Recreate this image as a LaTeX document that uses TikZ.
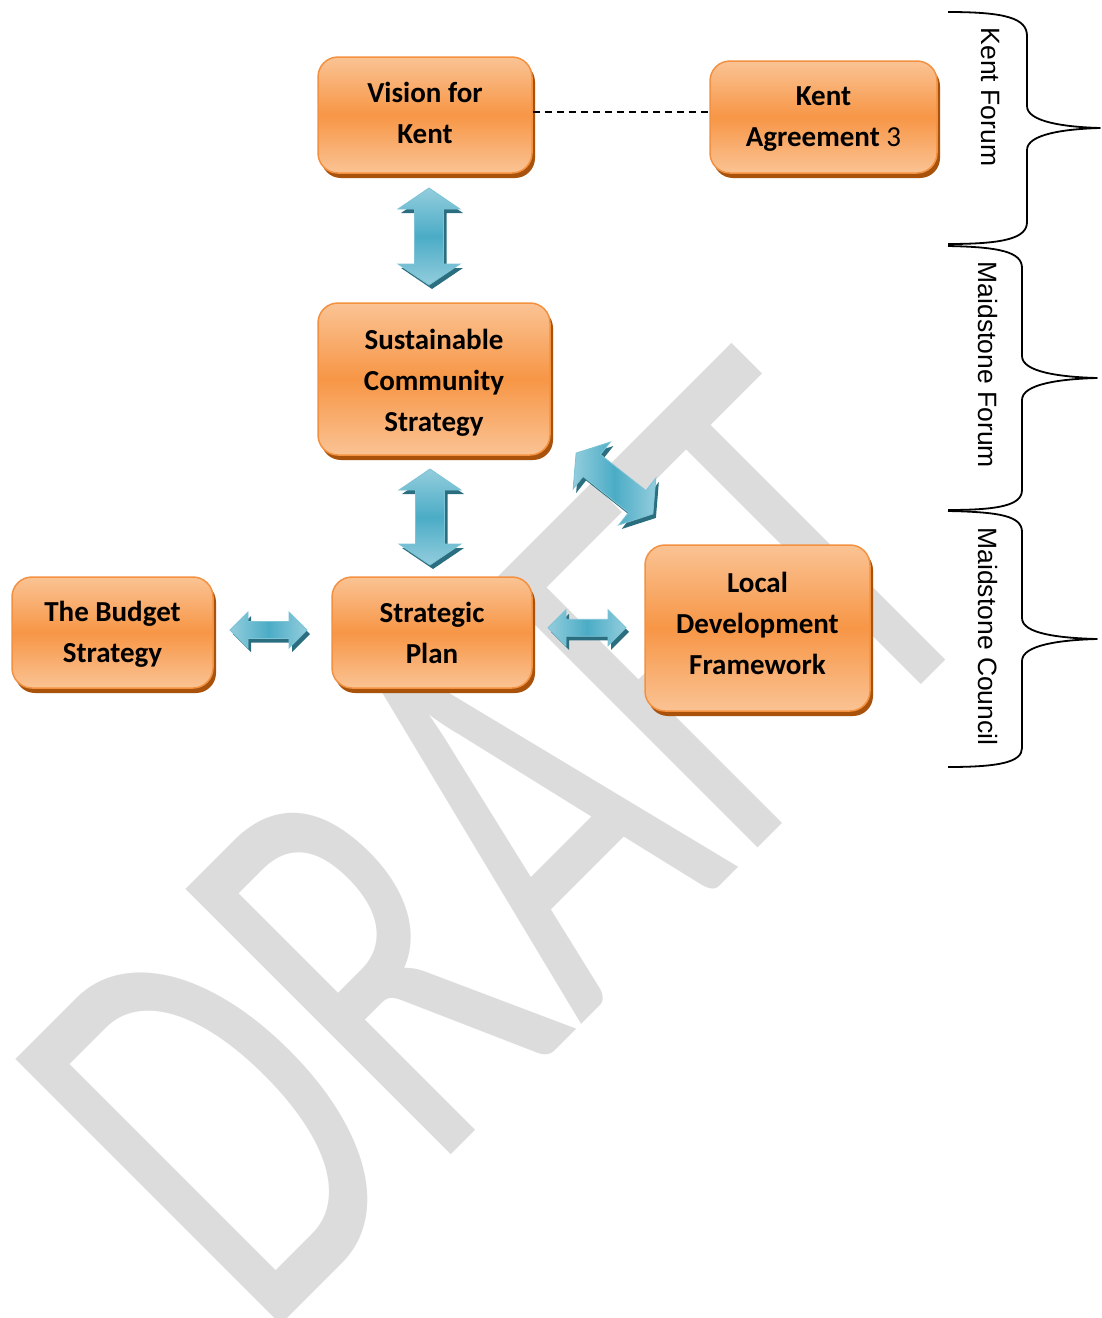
\documentclass[tikz,border=0pt]{standalone}
\usepackage{graphicx}
\usepackage{fontspec}
\setmainfont{Carlito}
\newfontfamily\arialfont{Liberation Sans}
\usetikzlibrary{calc,shadows}
\definecolor{boxtop}{HTML}{FAC394}
\definecolor{boxmid}{HTML}{F79646}
\definecolor{boxborder}{HTML}{F39140}
\definecolor{boxshadow}{HTML}{A8520C}
\definecolor{arrlight}{HTML}{93CDDD}
\definecolor{arrmid}{HTML}{4BACC6}
\definecolor{arrshadow}{HTML}{2B6E80}
\definecolor{arredge}{HTML}{7CC3D6}
\definecolor{wmark}{HTML}{DCDCDC}
\tikzset{
  box/.style={draw=boxborder, line width=1.5pt, rounded corners=20pt,
    top color=boxtop, bottom color=boxtop, middle color=boxmid,
    inner sep=0pt,
    drop shadow={shadow xshift=3pt, shadow yshift=-5pt, fill=boxshadow, opacity=1}},
  boxtext/.style={align=center, inner sep=0pt, text=black,
    font=\bfseries\fontsize{29}{41}\selectfont},
  pics/barrow/.style n args={5}{code={
    \path[#5] (-#1/2,0) -- (-#1/2+#4,-#2) -- (-#1/2+#4,-#3) -- (#1/2-#4,-#3)
      -- (#1/2-#4,-#2) -- (#1/2,0) -- (#1/2-#4,#2) -- (#1/2-#4,#3)
      -- (-#1/2+#4,#3) -- (-#1/2+#4,#2) -- cycle;
  }},
  arrbodyh/.style={draw=arredge, line width=0.8pt, line join=miter,
    left color=arrlight, right color=arrlight, middle color=arrmid},
  arrbodyv/.style={draw=arredge, line width=0.8pt, line join=miter,
    top color=arrlight, bottom color=arrlight, middle color=arrmid},
  arrshade/.style={fill=arrshadow},
  bracepath/.style={line width=1.8pt, line join=round},
  sidelabel/.style={font=\arialfont\fontsize{26.5}{30}\selectfont, rotate=-90, anchor=base, inner sep=0pt},
  dashline/.style={line width=1.4pt, dash pattern=on 7pt off 5pt},
}
\begin{document}
\begin{tikzpicture}[x=1pt,y=-1pt]
\useasboundingbox (0,0) rectangle (1102,1318);
% watermark
\begin{scope}
\clip (0,0) rectangle (1102,1318);
\node[rotate=45, anchor=base west, text=wmark, inner sep=0pt] (wm) at (262,1344)
  {\scalebox{0.665}[1]{\fontsize{585}{585}\selectfont DRAFT}};
\end{scope}
% boxes
\node[box, minimum width=214pt, minimum height=116pt] (vision) at (425,115) {};
\node[box, minimum width=227pt, minimum height=112pt] (kent) at (823.5,117) {};
\node[box, minimum width=232pt, minimum height=152pt] (scs) at (434,379) {};
\node[box, minimum width=201pt, minimum height=111pt] (budget) at (112.5,632.5) {};
\node[box, minimum width=200pt, minimum height=111pt] (sp) at (432,632.5) {};
\node[box, minimum width=225pt, minimum height=166pt] (ldf) at (757.5,628) {};
% box texts
\node[boxtext] (visiontxt) at ($(vision.center)+(0,-2)$) {Vision for\\Kent};
\node[boxtext] (kenttxt) at ($(kent.center)+(0,2)$) {Kent\\Agreement {\mdseries 3}};
\node[boxtext] (scstxt) at ($(scs.center)+(0,4)$) {Sustainable\\Community\\Strategy};
\node[boxtext] (budgettxt) at ($(budget.center)+(0,2)$) {The Budget\\Strategy};
\node[boxtext] (sptxt) at ($(sp.center)+(0,0)$) {Strategic\\Plan};
\node[boxtext] (ldftxt) at ($(ldf.center)+(0,-5)$) {Local\\Development\\Framework};
% dashed link
\coordinate (d1) at ([yshift=3pt]vision.east);
\draw[dashline] (d1) -- (d1 -| kent.west);
% block arrows
\coordinate (a1) at ($(vision.south)!0.5!(scs.north)+(-0.5,-1.5)$);
\coordinate (a2) at ($(scs.south)!0.5!(sp.north)+(-3,1)$);
\coordinate (a3) at ($(budget.east)!0.5!(sp.west)+(-4,-2.5)$);
\coordinate (a4) at ($(sp.east)!0.5!(ldf.west)+(-1.5,-2.5)$);
\coordinate (a5) at ($(scs.south east)!0.5!(ldf.north west)+(17,-16.5)$);
\pic[rotate=90] at ([shift={(3,4)}]a1) {barrow={97}{31}{14.5}{21}{arrshade}};
\pic[rotate=90] at (a1) {barrow={97}{31}{14.5}{21}{arrbodyv}};
\pic[rotate=90] at ([shift={(3,4)}]a2) {barrow={96}{31}{14.5}{21}{arrshade}};
\pic[rotate=90] at (a2) {barrow={96}{31}{14.5}{21}{arrbodyv}};
\pic at ([shift={(3,4)}]a3) {barrow={77}{18}{8.5}{18}{arrshade}};
\pic at (a3) {barrow={77}{18}{8.5}{18}{arrbodyh}};
\pic at ([shift={(3,4)}]a4) {barrow={78}{18}{8.5}{18}{arrshade}};
\pic at (a4) {barrow={78}{18}{8.5}{18}{arrbodyh}};
\pic[rotate=-38.4] at ([shift={(3,4)}]a5) {barrow={98}{30}{14}{20}{arrshade}};
\pic[rotate=-38.4] at (a5) {barrow={98}{30}{14}{20}{arrbodyh}};
% braces
\draw[bracepath] (948,12) .. controls (1005,12) and (1027,18) .. (1027,36) -- (1027,106)
  .. controls (1027,122) and (1065,127) .. (1100,128)
  .. controls (1065,129) and (1027,134) .. (1027,150) -- (1027,222)
  .. controls (1027,238) and (1005,244) .. (948,244);
\draw[bracepath] (948,246) .. controls (1000,247) and (1022,252) .. (1022,268) -- (1022,356)
  .. controls (1022,372) and (1060,377) .. (1097,378)
  .. controls (1060,379) and (1022,384) .. (1022,400) -- (1022,490)
  .. controls (1022,505) and (1000,510) .. (948,510);
\draw[bracepath] (948,511) .. controls (1000,512) and (1022,516) .. (1022,532) -- (1022,618)
  .. controls (1022,634) and (1060,638) .. (1097,639)
  .. controls (1060,640) and (1022,645) .. (1022,661) -- (1022,748)
  .. controls (1022,762) and (1000,767) .. (948,767);
% side labels
\node[sidelabel] (kf) at (981,97) {Kent Forum};
\node[sidelabel] (mf) at (978,365) {Maidstone Forum};
\node[sidelabel] (mc) at (978,636.5) {Maidstone Council};
\end{tikzpicture}
\end{document}
